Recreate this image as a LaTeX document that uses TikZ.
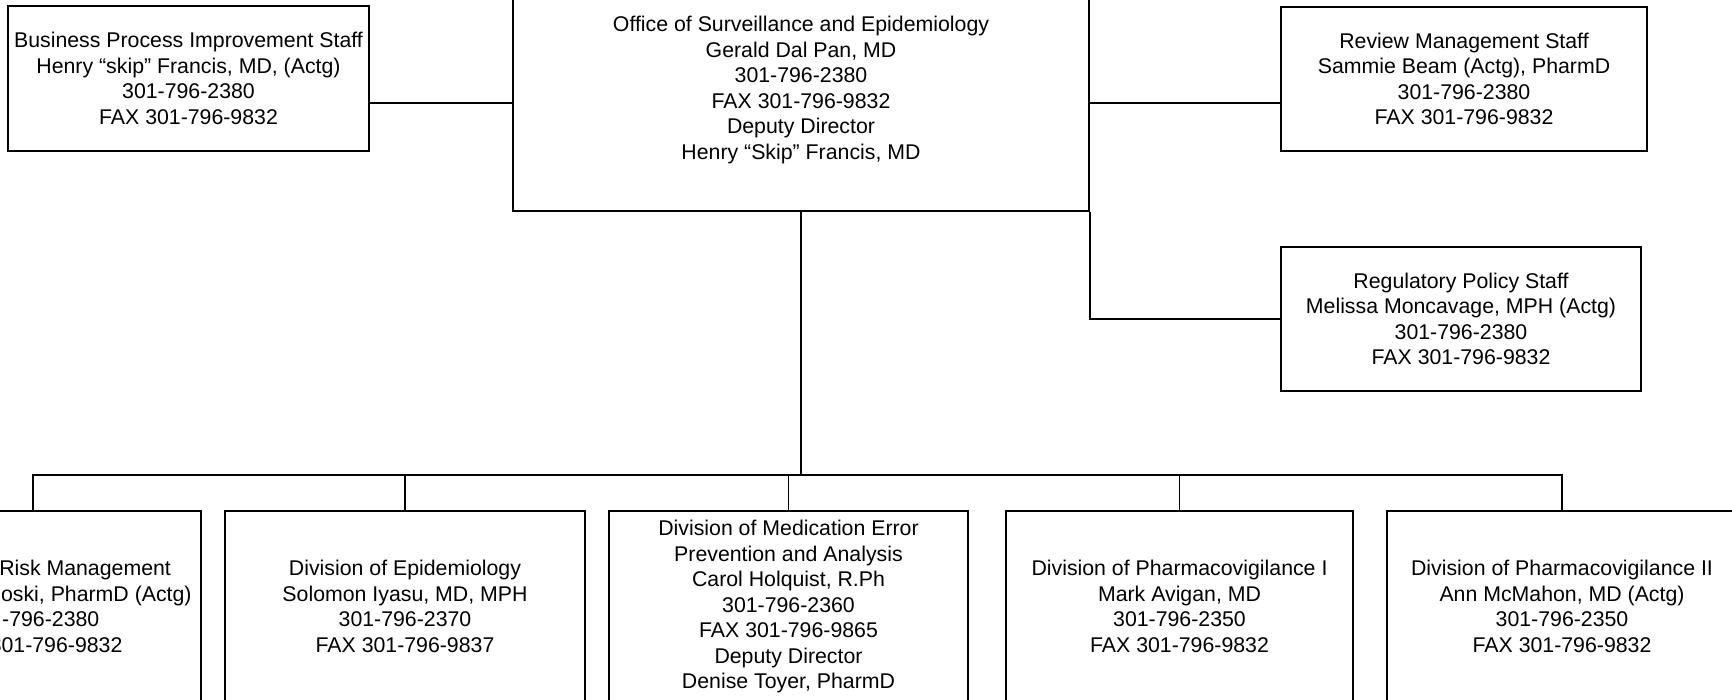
\documentclass[tikz,border=0pt]{standalone}
\usepackage{fontspec}
\setmainfont{Liberation Sans}
\begin{document}
\begin{tikzpicture}[x=1pt,y=-1pt,
  box/.style={draw, line width=2.2pt, inner sep=0pt, align=center,
    font=\fontsize{21.3}{25.5}\selectfont, anchor=center},
  link/.style={line width=2.2pt},
  drop/.style={line width=1.4pt}]
\useasboundingbox (0,0) rectangle (1732,699);
\clip (0,0) rectangle (1732,699);
\fill[white] (0,0) rectangle (1732,699);

% top row
\node[box, minimum width=361pt, minimum height=145pt] (bpi) at (188.5,78.5)
  {Business Process Improvement Staff\\Henry “skip” Francis, MD, (Actg)\\301-796-2380\\FAX 301-796-9832};
\node[box, minimum width=576pt, minimum height=242pt] (ose) at (801,90)
  {Office of Surveillance and Epidemiology\\Gerald Dal Pan, MD\\301-796-2380\\FAX 301-796-9832\\Deputy Director\\Henry “Skip” Francis, MD};
\node[box, minimum width=366pt, minimum height=144pt] (rev) at (1464,79)
  {Review Management Staff\\Sammie Beam (Actg), PharmD\\301-796-2380\\FAX 301-796-9832};
\node[box, minimum width=360pt, minimum height=144pt] (reg) at (1461,319)
  {Regulatory Policy Staff\\Melissa Moncavage, MPH (Actg)\\301-796-2380\\FAX 301-796-9832};

% bottom row
\node[box, minimum width=336pt, minimum height=191pt] (risk) at (33,606.5)
  {\phantom{Division of} Risk Management\\\phantom{Claudia Karw}oski, PharmD (Actg)\\\phantom{301}-796-2380\\\phantom{FAX} 301-796-9832};
\node[box, minimum width=360pt, minimum height=191pt] (epi) at (405,606.5)
  {Division of Epidemiology\\Solomon Iyasu, MD, MPH\\301-796-2370\\FAX 301-796-9837};
\node[box, minimum width=359pt, minimum height=191pt] (med) at (788.5,606.5)
  {Division of Medication Error\\Prevention and Analysis\\Carol Holquist, R.Ph\\301-796-2360\\FAX 301-796-9865\\Deputy Director\\Denise Toyer, PharmD};
\node[box, minimum width=347pt, minimum height=191pt] (pvone) at (1179.5,606.5)
  {Division of Pharmacovigilance I\\Mark Avigan, MD\\301-796-2350\\FAX 301-796-9832};
\node[box, minimum width=350pt, minimum height=191pt] (pvtwo) at (1562,606.5)
  {Division of Pharmacovigilance II\\Ann McMahon, MD (Actg)\\301-796-2350\\FAX 301-796-9832};

% connectors
\coordinate (tie) at (801,103);
\coordinate (bus) at (801,475);
\draw[link] (bpi.east |- tie) -- (ose.west |- tie);
\draw[link] (ose.east |- tie) -- (rev.west |- tie);
\draw[link] (ose.south east) |- (reg.west);
\draw[link] (ose.south) -- (bus);
\draw[link] (risk.north) -- (risk.north |- bus) -- (pvtwo.north |- bus) -- (pvtwo.north);
\draw[drop] (epi.north) -- (epi.north |- bus);
\draw[drop] (med.north) -- (med.north |- bus);
\draw[drop] (pvone.north) -- (pvone.north |- bus);
\end{tikzpicture}
\end{document}
